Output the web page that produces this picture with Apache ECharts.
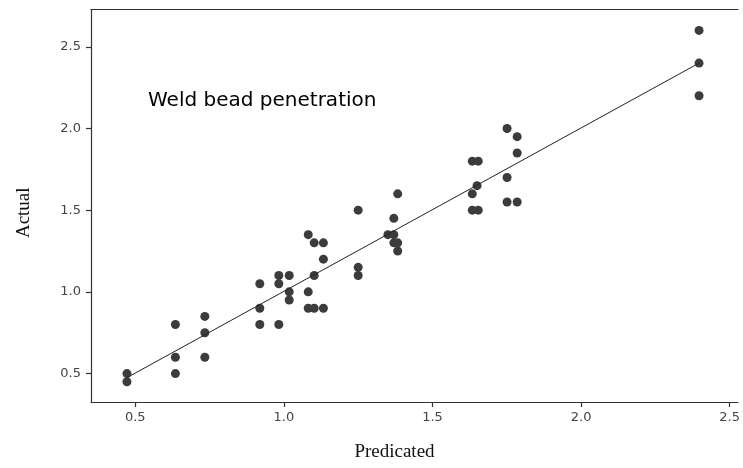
<!DOCTYPE html>
<html>
<head>
<meta charset="utf-8">
<script src="https://cdn.jsdelivr.net/npm/echarts@6/dist/echarts.min.js"></script>
<style>
html,body{margin:0;padding:0;background:#fff;}
#chart{width:743px;height:468px;}
</style>
</head>
<body>
<div id="chart"></div>
<script>
var myChart = echarts.init(document.getElementById("chart"));

// predicted vs actual
var predicted = [0.472, 0.472, 0.635, 0.635, 0.635, 0.734, 0.734, 0.734,
    0.919, 0.919, 0.919, 0.983, 0.983, 0.983, 1.018, 1.018, 1.018,
    1.082, 1.102, 1.133, 1.133, 1.102, 1.082, 1.082, 1.102, 1.133,
    1.250, 1.250, 1.250, 1.383, 1.370, 1.350, 1.370, 1.370, 1.383, 1.383,
    1.634, 1.654, 1.650, 1.634, 1.634, 1.654, 1.751, 1.751, 1.785, 1.785,
    1.751, 1.785, 2.397, 2.397, 2.397];
var actual = [0.50, 0.45, 0.80, 0.60, 0.50, 0.85, 0.75, 0.60,
    1.05, 0.90, 0.80, 1.10, 1.05, 0.80, 1.10, 1.00, 0.95,
    1.35, 1.30, 1.30, 1.20, 1.10, 1.00, 0.90, 0.90, 0.90,
    1.50, 1.15, 1.10, 1.60, 1.45, 1.35, 1.35, 1.30, 1.30, 1.25,
    1.80, 1.80, 1.65, 1.60, 1.50, 1.50, 1.70, 1.55, 1.55, 1.85,
    2.00, 1.95, 2.60, 2.40, 2.20];
// fitted line end points
var fitX = [0.472, 2.397];
var fitY = [0.475, 2.40];
var tickValues = [0.5, 1.0, 1.5, 2.0, 2.5];

var points = [];
for (var i = 0; i < predicted.length; i++) {
    points.push([predicted[i], actual[i]]);
}
var fitLine = [[fitX[0], fitY[0]], [fitX[1], fitY[1]]];

var axisLineStyle = { color: '#333', width: 1.2 };
var tickFont = { fontFamily: 'DejaVu Sans', fontSize: 13, color: '#444' };

option = {
    backgroundColor: '#fff',
    animation: false,
    grid: { left: 91, right: 1, top: 9.5, bottom: 66, containLabel: false },
    xAxis: [{
        type: 'value',
        min: 0.351,
        max: 2.528,
        name: 'Predicated',
        nameLocation: 'middle',
        nameGap: 41,
        nameTextStyle: { fontFamily: 'Liberation Serif', fontSize: 19, color: '#111', padding: [0, 40, 0, 0] },
        splitLine: { show: false },
        axisLine: { lineStyle: axisLineStyle },
        axisTick: { show: true, length: 5, customValues: tickValues, lineStyle: axisLineStyle },
        axisLabel: Object.assign({ margin: 9, customValues: tickValues, formatter: function (v) { return v.toFixed(1); } }, tickFont)
    }, {
        type: 'value',
        position: 'top',
        min: 0.351,
        max: 2.528,
        splitLine: { show: false },
        axisLine: { show: true, lineStyle: axisLineStyle },
        axisTick: { show: false },
        axisLabel: { show: false }
    }],
    yAxis: {
        type: 'value',
        min: 0.326,
        max: 2.728,
        name: 'Actual',
        nameLocation: 'middle',
        nameGap: 57,
        nameTextStyle: { fontFamily: 'Liberation Serif', fontSize: 19, color: '#111', padding: [0, 14, 0, 0] },
        splitLine: { show: false },
        axisLine: { show: true, lineStyle: axisLineStyle },
        axisTick: { show: true, length: 5, customValues: tickValues, lineStyle: axisLineStyle },
        axisLabel: Object.assign({ margin: 10, customValues: tickValues, formatter: function (v) { return v.toFixed(1); } }, tickFont)
    },
    graphic: [{
        type: 'text',
        left: 148,
        top: 91,
        style: { text: 'Weld bead penetration', fontFamily: 'DejaVu Sans', fontSize: 20, fill: '#000' }
    }],
    series: [{
        type: 'line',
        data: fitLine,
        symbol: 'none',
        lineStyle: { color: '#222', width: 1 },
        silent: true
    }, {
        type: 'scatter',
        data: points,
        symbolSize: 9,
        itemStyle: { color: '#3c3c3c', opacity: 1 }
    }]
};
myChart.setOption(option);
</script>
</body>
</html>
